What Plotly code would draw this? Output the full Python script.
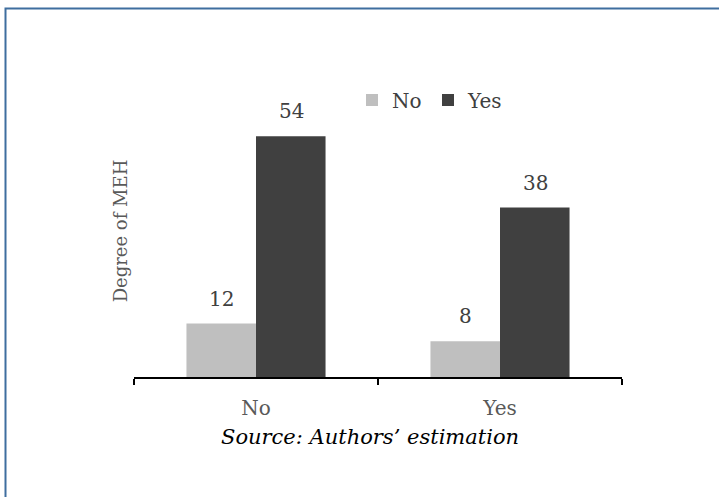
import plotly.graph_objects as go

categories = ["No", "Yes"]
series_no = [12, 8]
series_yes = [54, 38]
series_names = ["No", "Yes"]
y_title = "Degree of MEH"
source_note = "Source: Authors\u2019 estimation"

FONT = "DejaVu Serif"
W, H = 719, 497
L, R, T, B = 134, 97, 85, 120
pw, ph = W - L - R, H - T - B
Y_MAX = 65.5
BAR_SHIFT = 35  # half of one bar's width in pixels


def px_x(x):
    return (x - L) / pw


def px_y(y):
    return (H - B - y) / ph


fig = go.Figure()
annotations = []
for (name, vals, color, shift) in [(series_names[0], series_no, "#BFBFBF", -BAR_SHIFT),
                                   (series_names[1], series_yes, "#404040", BAR_SHIFT)]:
    fig.add_trace(go.Bar(
        x=categories, y=vals, name=name, marker_color=color,
        marker_line_width=0,
    ))
    for cat, v in zip(categories, vals):
        annotations.append(dict(
            x=cat, y=v, xref="x", yref="y", text=str(v), showarrow=False,
            xanchor="center", yanchor="bottom", xshift=shift, yshift=11,
            font=dict(family=FONT, size=20, color="#404040"),
        ))

annotations.append(dict(
    text="<i>" + source_note + "</i>", xref="paper", yref="paper",
    x=px_x(370), y=px_y(437), xanchor="center", yanchor="middle",
    showarrow=False, font=dict(family=FONT, size=21, color="black")))

fig.update_layout(
    width=W, height=H,
    margin=dict(l=L, r=R, t=T, b=B),
    paper_bgcolor="white", plot_bgcolor="white",
    barmode="group", bargap=0.43, bargroupgap=0,
    font=dict(family=FONT, size=18, color="#595959"),
    showlegend=True,
    legend=dict(orientation="h", x=px_x(352), xanchor="left",
                y=px_y(100), yanchor="middle",
                font=dict(family=FONT, size=20, color="#404040"),
                itemwidth=30, entrywidth=31, entrywidthmode="pixels",
                traceorder="normal", bgcolor="rgba(0,0,0,0)"),
    xaxis=dict(showline=True, linecolor="black", linewidth=1.5,
               ticks="outside", tickcolor="black", ticklen=6, tickwidth=1.5,
               tickson="boundaries", showgrid=False, ticklabelstandoff=12,
               tickfont=dict(family=FONT, size=20, color="#595959")),
    yaxis=dict(range=[0, Y_MAX], showticklabels=False, showgrid=False,
               zeroline=False, showline=False, ticks="",
               title=dict(text=y_title, standoff=0,
                          font=dict(family=FONT, size=18, color="#595959"))),
    annotations=annotations,
    shapes=[dict(type="path", xref="paper", yref="paper",
                 path=f"M {px_x(5.5)} {px_y(500)} L {px_x(5.5)} {px_y(8.5)} L {px_x(722)} {px_y(8.5)}",
                 line=dict(color="#3F6E9F", width=2))],
)

fig.write_html("out.html")
